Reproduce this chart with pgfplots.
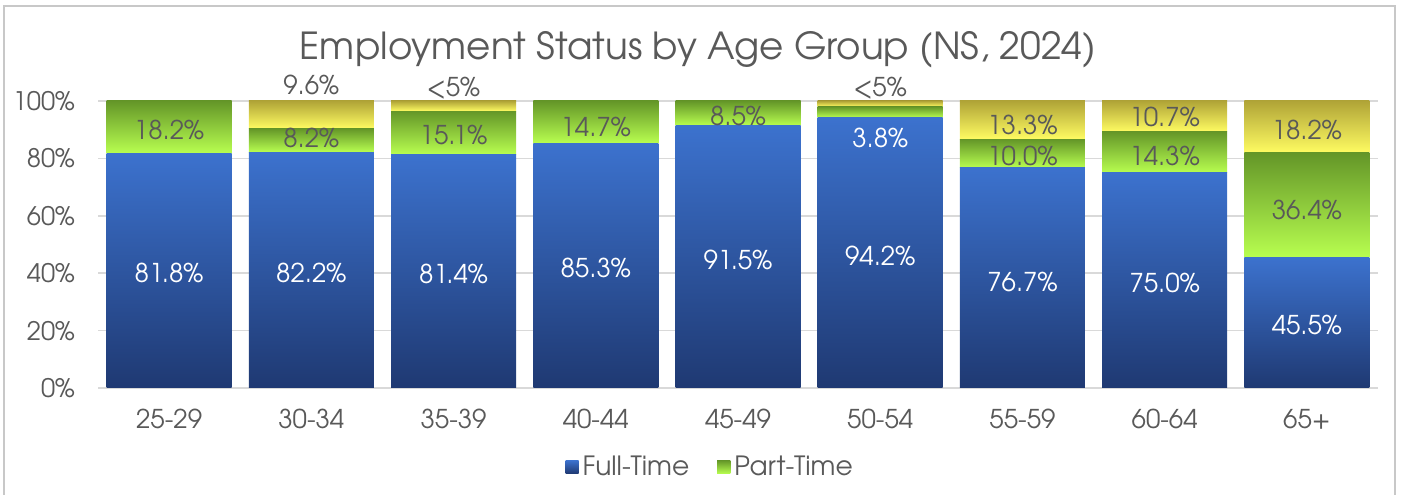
\documentclass[border=0pt]{standalone}
\usepackage{fontspec}
\setmainfont{TeX Gyre Adventor}
\usepackage{pgfplots}
\pgfplotsset{compat=1.18}
\definecolor{txt}{RGB}{89,89,89}
\definecolor{gridc}{RGB}{217,217,217}
\definecolor{framec}{RGB}{200,200,200}
\definecolor{ftTop}{RGB}{60,114,206}
\definecolor{ftBot}{RGB}{31,57,114}
\definecolor{ptTop}{RGB}{100,150,40}
\definecolor{ptBot}{RGB}{184,254,80}
\definecolor{seTop}{RGB}{176,164,55}
\definecolor{seBot}{RGB}{255,252,98}
\tikzset{lbl/.style={font=\fontsize{13}{15}\selectfont, anchor=center}}
\pgfplotsset{common/.style={
  at={(49bp,53.5bp)}, anchor=south west,
  scale only axis, width=640bp, height=143.5bp,
  xmin=-0.5, xmax=8.5, ymin=0, ymax=100, clip=false}}
% one stacked bar per axis, so that each segment is shaded on its own
\newcommand{\stackbar}[4]{%
\begin{axis}[common, hide axis, ybar stacked, bar width=62.5bp]
\addplot[draw=none, top color=ftTop, bottom color=ftBot] coordinates {(#1,#2)};
\addplot[draw=none, top color=ptTop, bottom color=ptBot] coordinates {(#1,#3)};
\ifdim #4pt>0pt
\addplot[draw=none, top color=seTop, middle color=seBot!85!seTop, bottom color=seBot] coordinates {(#1,#4)};
\fi
\end{axis}}
\begin{document}
\begin{tikzpicture}
\useasboundingbox (0,0) rectangle (700.5bp,247.5bp);
\draw[framec, line width=0.8bp] (2bp,-5bp) rectangle (697.5bp,244.5bp);
\node[text=txt, font=\fontsize{18.7}{22}\selectfont] at (349bp,222.5bp) {Employment Status by Age Group (NS, 2024)};
\begin{axis}[
  common,
  axis line style={draw=none},
  major tick length=0pt,
  ytick={0,20,...,100},
  ymajorgrids, grid style={gridc, line width=0.8bp},
  /pgf/number format/assume math mode=true,
  yticklabel={\pgfmathprintnumber{\tick}\%},
  yticklabel style={text=txt, font=\fontsize{12.8}{15}\selectfont, xshift=-8bp},
  xtick={0,1,2,3,4,5,6,7,8},
  xticklabels={25-29,30-34,35-39,40-44,45-49,50-54,55-59,60-64,65+},
  xticklabel style={text=txt, font=\fontsize{13}{15}\selectfont, yshift=-7bp},
  legend style={at={(0.479,0)}, anchor=center, yshift=-39.5bp, draw=none, fill=none,
    legend columns=2, font=\fontsize{13.3}{15}\selectfont, text=txt,
    /tikz/every even column/.append style={column sep=12bp}},
  legend image code/.code={\path[#1] (0bp,-3.3bp) rectangle (6.6bp,3.3bp);},
]
\addlegendimage{draw=none, top color=ftTop, bottom color=ftBot}
\addlegendentry{Full-Time}
\addlegendimage{draw=none, top color=ptTop, bottom color=ptBot}
\addlegendentry{Part-Time}
\end{axis}
% x, full-time, part-time, other
\stackbar{0}{81.8}{18.2}{0}
\stackbar{1}{82.2}{8.2}{9.6}
\stackbar{2}{81.4}{15.1}{3.5}
\stackbar{3}{85.3}{14.7}{0}
\stackbar{4}{91.5}{8.5}{0}
\stackbar{5}{94.2}{3.8}{2.0}
\stackbar{6}{76.7}{10.0}{13.3}
\stackbar{7}{75.0}{14.3}{10.7}
\stackbar{8}{45.5}{36.4}{18.1}
\begin{axis}[common, hide axis]
% full-time labels (white)
\node[lbl, white] at (axis cs:0,40.0) {81.8\%};
\node[lbl, white] at (axis cs:1,40.0) {82.2\%};
\node[lbl, white] at (axis cs:2,39.8) {81.4\%};
\node[lbl, white] at (axis cs:3,41.8) {85.3\%};
\node[lbl, white] at (axis cs:4,44.6) {91.5\%};
\node[lbl, white] at (axis cs:5,46.0) {94.2\%};
\node[lbl, white] at (axis cs:6,36.9) {76.7\%};
\node[lbl, white] at (axis cs:7,36.6) {75.0\%};
\node[lbl, white] at (axis cs:8,22.0) {45.5\%};
\node[lbl, white] at (axis cs:5,87.1) {3.8\%};
% part-time labels
\node[lbl, text=txt] at (axis cs:0,89.9) {18.2\%};
\node[lbl, text=txt] at (axis cs:1,87.0) {8.2\%};
\node[lbl, text=txt] at (axis cs:2,88.0) {15.1\%};
\node[lbl, text=txt] at (axis cs:3,90.9) {14.7\%};
\node[lbl, text=txt] at (axis cs:4,94.8) {8.5\%};
\node[lbl, text=txt] at (axis cs:6,80.8) {10.0\%};
\node[lbl, text=txt] at (axis cs:7,80.8) {14.3\%};
\node[lbl, text=txt] at (axis cs:8,62.0) {36.4\%};
% other labels
\node[lbl, text=txt] at (axis cs:1,105.6) {9.6\%};
\node[lbl, text=txt] at (axis cs:2,104.5) {<5\%};
\node[lbl, text=txt] at (axis cs:5,104.5) {<5\%};
\node[lbl, text=txt] at (axis cs:6,91.6) {13.3\%};
\node[lbl, text=txt] at (axis cs:7,94.4) {10.7\%};
\node[lbl, text=txt] at (axis cs:8,89.9) {18.2\%};
\end{axis}
\end{tikzpicture}
\end{document}
